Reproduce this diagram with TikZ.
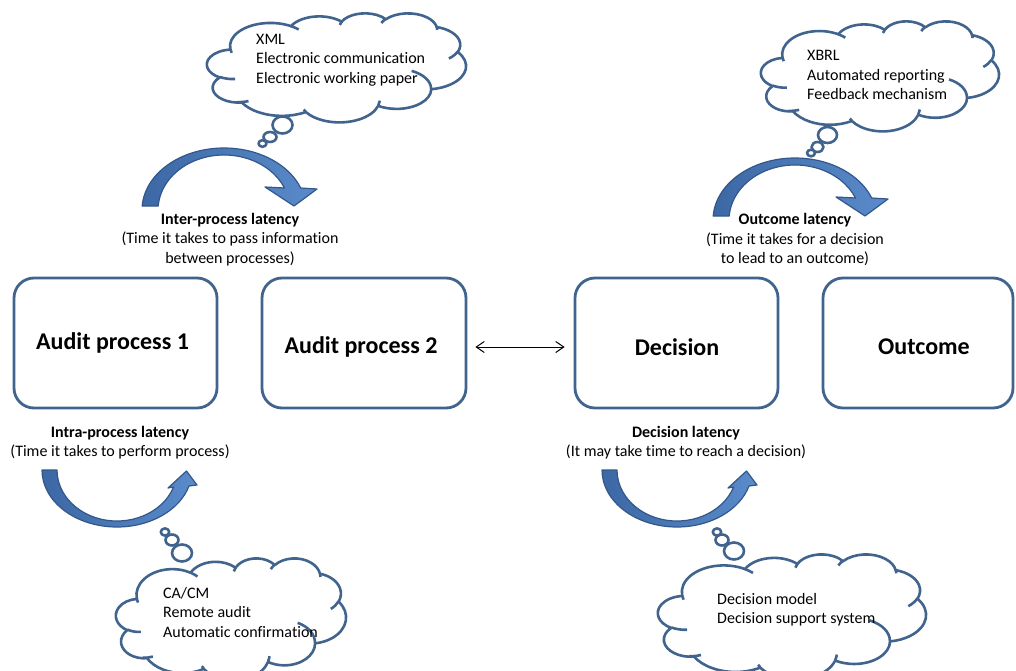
\documentclass[tikz,border=0pt]{standalone}
\usepackage{fontspec}
\setmainfont{Carlito}[Ligatures=NoCommon]
\usetikzlibrary{arrows.meta}

\definecolor{shapeblue}{HTML}{41648F}
\definecolor{arrowdark}{HTML}{3C68A4}
\definecolor{arrowlight}{HTML}{5B8BCB}
\definecolor{arrowedge}{HTML}{33578A}

% One elliptic arc of the cloud outline: x radius, y radius,
% start angle and sweep given as angles seen from the centre.
\newcommand\cloudarc[4]{%
  \pgfextra{%
    \pgfmathsetmacro\cloudst{atan2(#1*sin(#3),#2*cos(#3))}%
    \pgfmathsetmacro\clouden{atan2(#1*sin(#3+#4),#2*cos(#3+#4))}%
    \pgfmathsetmacro\clouddl{mod(\clouden-\cloudst+720,360)}%
    \global\let\cloudst\cloudst\global\let\clouddl\clouddl}%
  arc[x radius=#1, y radius=#2, start angle=\cloudst, delta angle=\clouddl]}

% Cloud outline in a 43.2 x 43.2 frame
\newcommand\cloudpath{(3.900,14.370)
  \cloudarc{6.753}{9.190}{-1142.9249/6}{742.6832/6}
  \cloudarc{5.333}{7.267}{-864.6143/6}{539.6714/6}
  \cloudarc{4.365}{5.945}{-874.8475/6}{598.3381/6}
  \cloudarc{4.857}{6.595}{-785.9164/6}{703.4504/6}
  \cloudarc{5.333}{7.273}{-472.2533/6}{654.1615/6}
  \cloudarc{6.775}{9.220}{-277.6035/6}{781.6140/6}
  \cloudarc{5.785}{7.867}{3.7501/6}{684.2000/6}
  \cloudarc{6.752}{9.215}{134.7096/6}{691.0353/6}
  \cloudarc{7.720}{10.543}{397.4558/6}{454.2661/6}
  \cloudarc{4.360}{5.918}{-1649.6525/6}{880.4134/6}
  \cloudarc{4.345}{5.945}{-1480.9710/6}{915.1131/6}
  -- cycle}

% Short inner strokes where the puffs meet
\newcommand\cloudcreases{%
  (4.693,26.177) \cloudarc{4.345}{5.945}{520.4520/6}{158.5770/6}
  (6.928,34.899) \cloudarc{4.360}{5.918}{441.6628/6}{117.0341/6}
  (16.478,39.090) \cloudarc{6.752}{9.215}{825.7449/6}{39.1500/6}
  (28.827,34.751) \cloudarc{6.752}{9.215}{38.7196/6}{95.9901/6}
  (34.129,22.954) \cloudarc{5.785}{7.867}{-421.7541/6}{425.5042/6}
  (41.798,15.354) \cloudarc{5.333}{7.273}{181.9082/6}{166.5090/6}
  (38.324,5.426) \cloudarc{4.857}{6.595}{-82.4660/6}{89.1534/6}
  (29.078,3.952) \cloudarc{4.857}{6.595}{-895.0887/6}{109.1722/6}
  (22.141,4.720) \cloudarc{4.365}{5.945}{-980.9656/6}{106.1181/6}
  (14.000,5.192) \cloudarc{6.753}{9.190}{-400.2417/6}{73.9161/6}
  (4.127,15.789) \cloudarc{6.753}{9.190}{945.9261/6}{71.1490/6}}

% Cloud with its frame: left, top, width, height
\newcommand\thoughtcloud[4]{%
  \pgfmathsetmacro\cloudxu{#3/43.2}%
  \pgfmathsetmacro\cloudyu{#4/43.2}%
  \begin{scope}[xshift=#1pt, yshift=-#2pt, x=\cloudxu pt, y=-\cloudyu pt]
    \draw[cloudline, fill=white] \cloudpath;
    \draw[cloudline] \cloudcreases;
  \end{scope}}

% Curved block arrows
\newcommand\downbend{(142.2,206)
  arc[start angle=183.7, end angle=339.22, x radius=82, y radius=62]
  -- (317,189) -- (294,206) -- (265,187) -- (284.5,188)
  arc[start angle=336.42, end angle=184.17, x radius=66, y radius=55]
  -- cycle}
\newcommand\upbend{(42,470)
  arc[start angle=180, end angle=16.3, x radius=75, y radius=57]
  -- (197,485) -- (186.5,471) -- (168,488) -- (173.6,487)
  arc[start angle=19.47, end angle=180, x radius=60, y radius=51]
  -- cycle}

\begin{document}
\begin{tikzpicture}[x=1pt, y=-1pt,
  procbox/.style={draw=shapeblue, line width=2.8pt, rounded corners=20pt, fill=white},
  boxlabel/.style={font=\fontsize{24}{28}\selectfont\bfseries, inner sep=0pt},
  note/.style={font=\fontsize{16}{19.5}\selectfont, align=center, inner sep=0pt},
  cloudtext/.style={font=\fontsize{16}{19.5}\selectfont, align=left, anchor=west, inner sep=0pt},
  cloudline/.style={draw=shapeblue, line width=2.6pt, line join=round},
  bubble/.style={cloudline, fill=white},
  bendarrow/.style={draw=arrowedge, line width=1.2pt, line join=round,
                    left color=arrowdark, right color=arrowlight},
  barb/.style={line width=1pt,
    {Straight Barb[length=8pt,width=11pt]}-{Straight Barb[length=8pt,width=11pt]}}]

\useasboundingbox (0,0) rectangle (1016,671);
\fill[white] (0,0) rectangle (1016,671);

\begin{scope}
\clip (0,0) rectangle (1016,671);

% process boxes
\node[procbox, minimum width=203pt, minimum height=130pt] (ap1) at (115.5,343) {};
\node[procbox, minimum width=204pt, minimum height=130pt] (ap2) at (364,343) {};
\node[procbox, minimum width=203pt, minimum height=130pt] (dec) at (676.5,343) {};
\node[procbox, minimum width=190pt, minimum height=130pt] (out) at (918,343) {};

\node[boxlabel] (ap1t) at (112.5,343) {Audit process 1};
\node[boxlabel] (ap2t) at (361,347) {Audit process 2};
\node[boxlabel] (dect) at (677,347) {Decision};
\node[boxlabel] (outt) at (924,347) {Outcome};

\draw[barb, shorten <=8pt, shorten >=9pt] ([yshift=-4pt]ap2.east) -- ([yshift=-4pt]dec.west);

% latency labels
\node[note] (interlbl) at (230,239.5) {\textbf{Inter-process latency}\\(Time it takes to pass information\\between processes)};
\node[note] (outlbl) at (795,239.5) {\textbf{Outcome latency}\\(Time it takes for a decision\\to lead to an outcome)};
\node[note] (intralbl) at (120,442.5) {\textbf{Intra-process latency}\\(Time it takes to perform process)};
\node[note] (declbl) at (686,442.5) {\textbf{Decision latency}\\(It may take time to reach a decision)};

% curved arrows
\path[bendarrow] \downbend;
\begin{scope}[xshift=571pt, yshift=-10pt]
  \path[bendarrow] \downbend;
\end{scope}
\path[bendarrow] \upbend;
\begin{scope}[xshift=560pt]
  \path[bendarrow] \upbend;
\end{scope}

% thought clouds
\thoughtcloud{207}{13}{259}{109}
\draw[bubble] (282.5,125) ellipse [x radius=10, y radius=8.5];
\draw[bubble] (270,137) ellipse [x radius=6.5, y radius=5];
\draw[bubble] (262.5,143.5) ellipse [x radius=4, y radius=3.3];
\node[cloudtext] (c1) at (256,60) {XML\\Electronic communication\\Electronic working paper};

\thoughtcloud{761}{21}{238}{110}
\draw[bubble] (827.5,135) ellipse [x radius=9.5, y radius=8];
\draw[bubble] (817.5,147) ellipse [x radius=6, y radius=5];
\draw[bubble] (811,153) ellipse [x radius=4, y radius=3.3];
\node[cloudtext] (c2) at (807,75) {XBRL\\Automated reporting\\Feedback mechanism};

\thoughtcloud{116}{558}{230}{122}
\draw[bubble] (182,553) ellipse [x radius=10, y radius=8.5];
\draw[bubble] (172,540) ellipse [x radius=6.5, y radius=5.5];
\draw[bubble] (165,532) ellipse [x radius=4.2, y radius=3.6];
\node[cloudtext] (c3) at (163,612) {CA/CM\\Remote audit\\Automatic confirmation};

\thoughtcloud{658}{554}{268}{125}
\draw[bubble] (734,551) ellipse [x radius=10, y radius=8.5];
\draw[bubble] (722,540) ellipse [x radius=6.5, y radius=5.5];
\draw[bubble] (717,532) ellipse [x radius=4.2, y radius=3.6];
\node[cloudtext] (c4) at (717,609.5) {Decision model\\Decision support system};
\end{scope}
\end{tikzpicture}
\end{document}
